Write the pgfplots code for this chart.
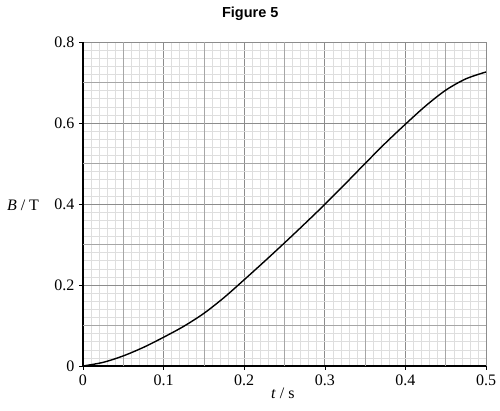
\documentclass[border=0pt]{standalone}
\usepackage{pgfplots}
\pgfplotsset{compat=1.18}
\usepackage{fontspec}
\setmainfont{Liberation Serif}
\newfontfamily\arialfont{Liberation Sans}
\begin{document}
\begin{tikzpicture}
\useasboundingbox (-83pt,-45pt) rectangle (417pt,366pt);
\begin{axis}[
  at={(0,0)}, anchor=south west,
  width=403pt, height=324pt, scale only axis,
  xmin=0, xmax=0.5, ymin=0, ymax=0.8,
  axis lines=left,
  axis line style={-, black, line width=1.1pt},
  xtick={0,0.1,0.2,0.3,0.4,0.5},
  ytick={0,0.2,0.4,0.6,0.8},
  xticklabels={0,0.1,0.2,0.3,0.4,0.5},
  yticklabels={0,0.2,0.4,0.6,0.8},
  minor x tick num=9, minor y tick num=9,
  extra x ticks={0.05,0.15,0.25,0.35,0.45},
  extra y ticks={0.1,0.3,0.5,0.7},
  extra x tick labels={}, extra y tick labels={},
  extra tick style={major tick length=0pt, major grid style={color=black!35, line width=0.6pt}},
  grid=both,
  major grid style={color=black!45, line width=0.7pt},
  minor grid style={color=black!13, line width=0.5pt},
  tick align=outside,
  major tick length=4pt, minor tick length=0pt,
  tick style={black, line width=0.6pt},
  every tick label/.append style={font=\fontsize{16}{19}\selectfont},
  /pgf/number format/assume math mode=true,
  xticklabel style={yshift=-1pt},
  yticklabel style={xshift=-1pt},
  xlabel={\fontsize{16}{19}\selectfont\textit{t} / s},
  xlabel style={at={(axis description cs:0.496,0)}, anchor=center, yshift=-27pt},
  ylabel={\fontsize{16}{19}\selectfont\textit{B} / T},
  ylabel style={at={(axis description cs:0,0.497)}, anchor=center, rotate=-90, xshift=-60pt},
  title={\arialfont\bfseries\fontsize{14.5}{17}\selectfont Figure 5},
  title style={at={(axis description cs:0.415,1)}, anchor=center, yshift=22pt},
  clip=false,
]
\addplot[black, line width=1.4pt, smooth] coordinates {
(0,0) (0.025,0.009) (0.05,0.025) (0.075,0.046) (0.1,0.071) (0.125,0.098)
(0.15,0.130) (0.175,0.169) (0.2,0.213) (0.225,0.258) (0.25,0.304)
(0.275,0.351) (0.3,0.399) (0.325,0.449) (0.35,0.500) (0.375,0.550)
(0.4,0.597) (0.425,0.642) (0.45,0.681) (0.475,0.709) (0.5,0.726)
};
\end{axis}
\end{tikzpicture}
\end{document}
